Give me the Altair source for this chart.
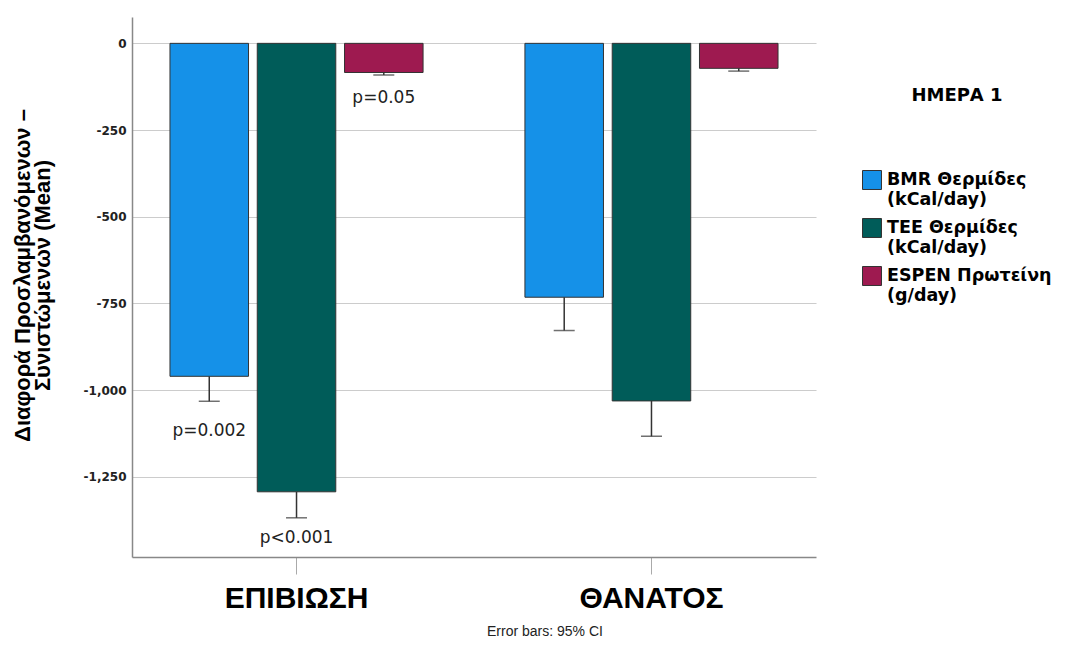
import altair as alt
import pandas as pd

groups = ["ΕΠΙΒΙΩΣΗ", "ΘΑΝΑΤΟΣ"]
series = ["BMR Θερμίδες (kCal/day)", "TEE Θερμίδες (kCal/day)", "ESPEN Πρωτείνη (g/day)"]
colors = ["#1591e8", "#005c59", "#9e1a50"]

means_epiviosi = [-960, -1293, -84]
lower_epiviosi = [-1032, -1368, -91]
means_thanatos = [-732, -1031, -72]
lower_thanatos = [-828, -1133, -80]

ann_group = ["ΕΠΙΒΙΩΣΗ", "ΕΠΙΒΙΩΣΗ", "ΕΠΙΒΙΩΣΗ"]
ann_series = series
ann_y = [-1117, -1426, -157]
ann_text = ["p=0.002", "p<0.001", "p=0.05"]

rows = []
for g, ms, ls in [(groups[0], means_epiviosi, lower_epiviosi), (groups[1], means_thanatos, lower_thanatos)]:
    for s, m, l in zip(series, ms, ls):
        rows.append({"group": g, "series": s, "mean": m, "lower": l})
df = pd.DataFrame(rows)
ann = pd.DataFrame({"group": ann_group, "series": ann_series, "y": ann_y, "text": ann_text})

ydom = [-1481, 76]
x_enc = alt.X("group:N", sort=groups,
              scale=alt.Scale(paddingInner=0.287, paddingOuter=0.107),
              axis=alt.Axis(title=None, labelAngle=0, labelFontSize=30, labelFont="Liberation Sans",
                            labelFontWeight="bold", labelColor="#000", labelPadding=9,
                            tickSize=17, tickColor="#aaa", domainColor="#888", domainWidth=1.5, grid=False))
xo_enc = alt.XOffset("series:N", sort=series, scale=alt.Scale(paddingInner=0.1, paddingOuter=0))

bars = alt.Chart(df).mark_bar(stroke="#333", strokeWidth=1).encode(
    x=x_enc,
    xOffset=xo_enc,
    y=alt.Y("mean:Q", scale=alt.Scale(domain=ydom, nice=False, zero=False),
            axis=alt.Axis(
                title=["Διαφορά Προσλαμβανόμενων –", "Συνιστώμενων (Mean)"],
                titleFontSize=22, titleFont="Liberation Sans", titleFontWeight="bold", titleColor="#000",
                titleX=-120, titleY=258, titleBaseline="top", titleAlign="center", titleLineHeight=20,
                values=[0, -250, -500, -750, -1000, -1250],
                labelExpr="replace(format(datum.value, ','), '−', '-')",
                labelFontSize=12, labelFont="DejaVu Sans", labelFontWeight="bold", labelColor="#222",
                labelPadding=6, ticks=False, domainColor="#888", domainWidth=1.5,
                grid=True, gridColor="#ccc", gridWidth=1.2)),
    color=alt.Color("series:N", sort=series, scale=alt.Scale(domain=series, range=colors),
                    legend=alt.Legend(
                        title="ΗΜΕΡΑ 1", orient="none", legendX=730, legendY=70,
                        titleFontSize=18, titleFont="DejaVu Sans", titleFontWeight="bold", titleColor="#000",
                        titleAnchor="middle", titlePadding=65,
                        labelExpr="[slice(datum.label, 0, indexof(datum.label, ' (')), slice(datum.label, indexof(datum.label, ' (') + 1)]",
                        labelFontSize=17.5, labelFont="DejaVu Sans", labelFontWeight="bold", labelColor="#000",
                        labelLimit=300, labelOffset=5,
                        symbolType="square", symbolSize=360, symbolStrokeColor="#333", symbolStrokeWidth=1,
                        symbolOpacity=1, rowPadding=8)),
)

rule = alt.Chart(df).mark_rule(color="#333", strokeWidth=1.5).encode(
    x=alt.X("group:N", sort=groups), xOffset=alt.XOffset("series:N", sort=series),
    y="mean:Q", y2="lower:Q")
cap = alt.Chart(df).mark_tick(color="#333", thickness=1.5, size=21, orient="horizontal").encode(
    x=alt.X("group:N", sort=groups), xOffset=alt.XOffset("series:N", sort=series),
    y="lower:Q")

text = alt.Chart(ann).mark_text(fontSize=17, font="DejaVu Sans", color="#222", baseline="middle").encode(
    x=alt.X("group:N", sort=groups), xOffset=alt.XOffset("series:N", sort=series),
    y="y:Q", text="text:N")

chart = alt.layer(bars, rule, cap, text).properties(
    width=684, height=540,
    autosize=alt.AutoSizeParams(type="none"),
    padding={"left": 124, "top": 9, "right": 241, "bottom": 83},
    title=alt.TitleParams("Error bars: 95% CI", orient="bottom", anchor="middle", dx=71, offset=12,
                          fontSize=14, font="Liberation Sans", fontWeight="normal", color="#222"),
).configure_view(stroke=None)

chart.save("out.html", embed_options={"renderer": "svg", "actions": False})
